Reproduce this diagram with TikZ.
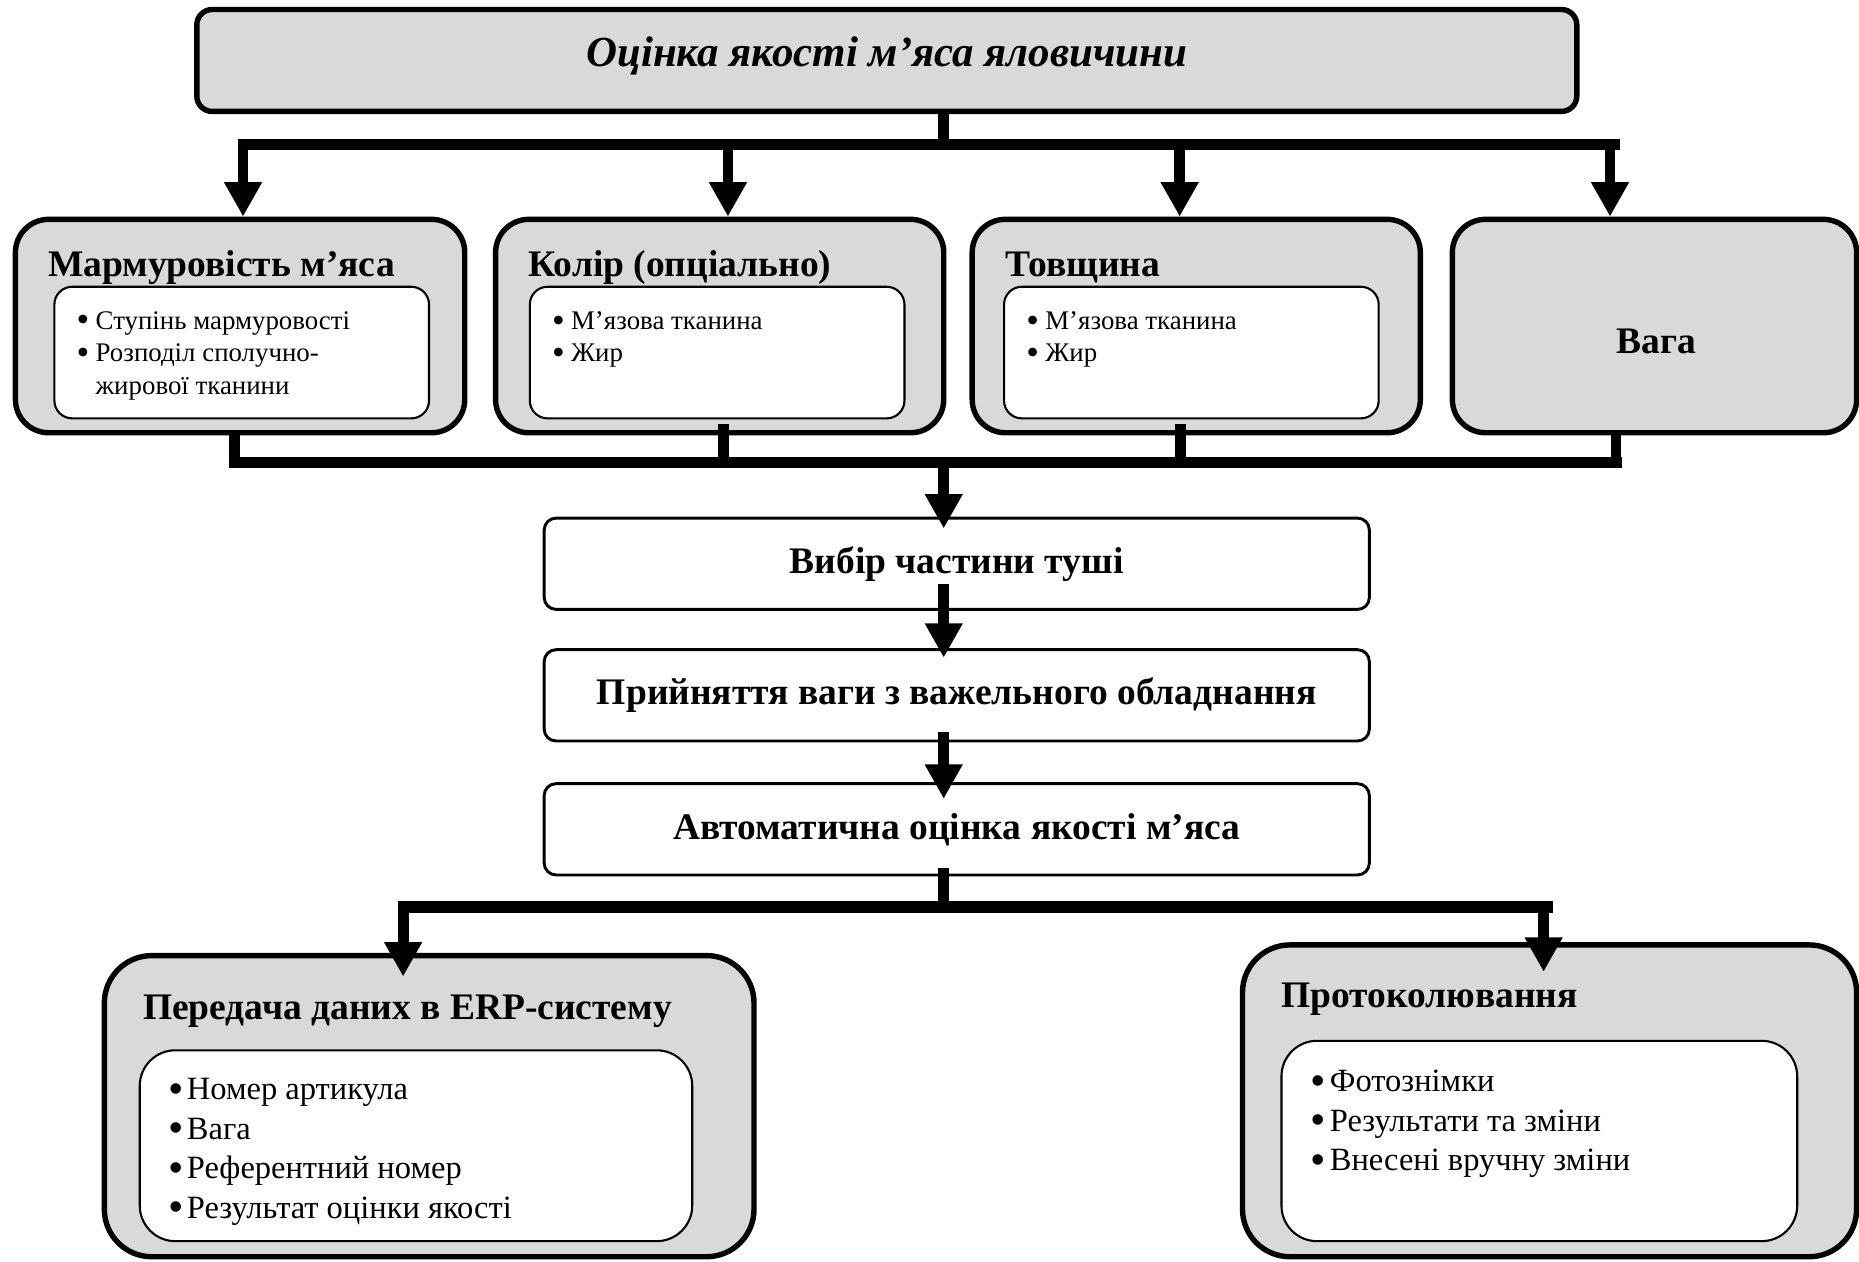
\documentclass[tikz,border=0pt]{standalone}
\usepackage{fontspec}
\usepackage{graphicx}
\setmainfont{Liberation Serif}
\usetikzlibrary{arrows.meta,positioning,calc}
\definecolor{boxgray}{RGB}{217,217,217}
\newcommand{\bul}{\makebox[1.6mm][l]{\raisebox{-0.1em}{\scalebox{1.35}{•}}}}

\begin{document}
\begin{tikzpicture}[x=0.1mm, y=-0.1mm,
    outer/.style={draw, line width=1.3pt, fill=boxgray, rounded corners=2.8mm, inner sep=0pt},
    inner/.style={draw, line width=0.5pt, fill=white, rounded corners=1.5mm, inner sep=0pt, anchor=north west},
    head/.style={anchor=west, inner sep=0pt, font=\fontsize{9}{10.5}\selectfont\bfseries},
    small/.style={anchor=north west, inner sep=0pt, align=left, font=\fontsize{6.45}{7.8}\selectfont},
    big/.style={anchor=north west, inner sep=0pt, align=left, font=\fontsize{7.8}{9.5}\selectfont},
    midbox/.style={draw, line width=0.7pt, rounded corners=1mm, minimum width=69.6mm, minimum height=7.7mm, font=\fontsize{9}{10.5}\selectfont\bfseries},
    link/.style={line width=2.6pt},
    bus/.style={line width=2.8pt},
    arr/.style={link, -{Triangle[length=2.9mm, width=3mm]}}]

  \useasboundingbox (0,0) rectangle (1568,1064);

  % title
  \node[outer, rounded corners=1.3mm, minimum width=116.4mm, minimum height=8.6mm] (title) at (748,51) {};
  \node[font=\fontsize{10.3}{12}\selectfont\bfseries\itshape] (titletxt) at (748,47) {Оцінка якості м’яса яловичини};

  % criteria
  \node[outer, minimum width=37.9mm, minimum height=18mm] (mar) at (202.5,275) {};
  \node[outer, minimum width=37.8mm, minimum height=18mm] (kol) at (607,275) {};
  \node[outer, minimum width=37.8mm, minimum height=18mm] (tov) at (1009,275) {};
  \node[outer, minimum width=34.1mm, minimum height=18mm] (vaga) at (1395.5,275) {};
  \node[font=\fontsize{9}{10.5}\selectfont\bfseries] (vagatxt) at (1397,288) {Вага};

  \node[head] (marh) at (40,226) {Мармуровість м’яса};
  \node[head] (kolh) at (445,226) {Колір (опціально)};
  \node[head] (tovh) at (847,226) {Товщина};

  \node[inner, minimum width=31.6mm, minimum height=11.1mm] (mari) at (45,241) {};
  \node[inner, minimum width=31.6mm, minimum height=11.1mm] (koli) at (446,241) {};
  \node[inner, minimum width=31.6mm, minimum height=11.1mm] (tovi) at (846,241) {};

  \node[small] (marl) at ([xshift=1.9mm, yshift=-2.1mm]mari.north west)
    {\bul Ступінь мармуровості\\ \bul Розподіл сполучно-\\ \hspace{1.6mm}жирової тканини};
  \node[small] (koll) at ([xshift=1.9mm, yshift=-2.1mm]koli.north west)
    {\bul М’язова тканина\\ \bul Жир};
  \node[small] (tovl) at ([xshift=1.9mm, yshift=-2.1mm]tovi.north west)
    {\bul М’язова тканина\\ \bul Жир};

  % steps
  \node[midbox] (vyb) at (807,475.5) {\raisebox{0.5mm}{Вибір частини туші}};
  \node[midbox] (pryi) at (807,586.5) {\raisebox{0.5mm}{Прийняття ваги з важельного обладнання}};
  \node[midbox] (avto) at (807,699.5) {\raisebox{0.5mm}{Автоматична оцінка якості м’яса}};

  % results
  \node[outer, rounded corners=4mm, minimum width=54.8mm, minimum height=25.4mm] (erp) at (362,933) {};
  \node[outer, rounded corners=4mm, minimum width=51.8mm, minimum height=26.3mm] (prot) at (1307,928.5) {};
  \node[head] (erph) at (120,853) {Передача даних в ERP-систему};
  \node[head] (proth) at (1080,843) {Протоколювання};
  \node[inner, rounded corners=3mm, minimum width=46.6mm, minimum height=16.1mm] (erpi) at (117,885) {};
  \node[inner, rounded corners=3mm, minimum width=43.5mm, minimum height=16.9mm] (proti) at (1080,877) {};
  \node[big] (erpl) at ([xshift=2.4mm, yshift=-2.4mm]erpi.north west)
    {\bul Номер артикула\\ \bul Вага\\ \bul Референтний номер\\ \bul Результат оцінки якості};
  \node[big] (protl) at ([xshift=2.5mm, yshift=-2.5mm]proti.north west)
    {\bul Фотознімки\\ \bul Результати та зміни\\ \bul Внесені вручну зміни};

  % connectors
  \coordinate (tl) at (201,122);
  \coordinate (tr) at (1366,122);
  \draw[link] (title.south -| 796,0) -- (796,122);
  \draw[bus] (tl) -- (tr);
  \foreach \x/\n in {205/mar, 614/kol, 995/tov, 1358/vaga}
    \draw[arr] (\x,122) -- (\x,0 |- \n.north);

  \coordinate (ml) at (193,390);
  \coordinate (mr) at (1368,390);
  \draw[link] (mar.south -| 198,0) -- (198,390);
  \draw[link] (610,358) -- (610,390);
  \draw[link] (996,358) -- (996,390);
  \draw[link] (vaga.south -| 1363,0) -- (1363,390);
  \draw[bus] (ml) -- (mr);
  \draw[arr] (796,390) -- ($(vyb.north -| 796,0)+(0,10)$);
  \draw[arr] (796,493) -- ($(pryi.north -| 796,0)+(0,8)$);
  \draw[arr] (796,617) -- ($(avto.north -| 796,0)+(0,14)$);

  \coordinate (bl) at (336,765);
  \coordinate (br) at (1310,765);
  \draw[link] (796,732) -- (796,765);
  \draw[bus] (bl) -- (br);
  \draw[arr] (340,765) -- ($(erp.north -| 340,0)+(0,20)$);
  \draw[arr] (1302,765) -- ($(prot.north -| 1302,0)+(0,25)$);
\end{tikzpicture}
\end{document}
